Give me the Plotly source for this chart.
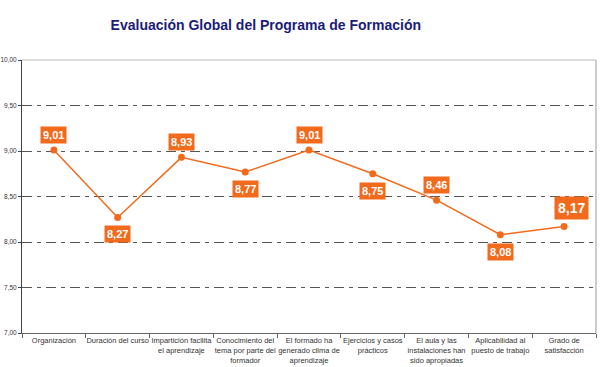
import plotly.graph_objects as go

categories = [
    "Organización",
    "Duración del curso",
    "Impartición facilita<br>el aprendizaje",
    "Conocimiento del<br>tema por parte del<br>formador",
    "El formado ha<br>generado clima de<br>aprendizaje",
    "Ejercicios y casos<br>prácticos",
    "El aula y las<br>instalaciones han<br>sido apropiadas",
    "Aplicabilidad al<br>puesto de trabajo",
    "Grado de<br>satisfacción",
]
values = [9.01, 8.27, 8.93, 8.77, 9.01, 8.75, 8.46, 8.08, 8.17]
label_above = [True, False, True, False, True, False, True, False, True]
y_ticks = [7.0, 7.5, 8.0, 8.5, 9.0, 9.5, 10.0]

ORANGE = "#F26A1B"

fig = go.Figure()
fig.add_trace(go.Scatter(
    x=categories, y=values, mode="lines+markers",
    line=dict(color=ORANGE, width=1.5),
    marker=dict(color=ORANGE, size=7),
    hoverinfo="skip",
))

for i, (c, v, up) in enumerate(zip(categories, values, label_above)):
    last = i == len(values) - 1
    fig.add_annotation(
        x=c, y=v, text="<b>" + f"{v:.2f}".replace(".", ",") + "</b>",
        showarrow=False,
        yshift=(19 if last else 15) if up else -17,
        xshift=7 if last else 0,
        bgcolor=ORANGE, borderpad=3 if last else 2,
        font=dict(family="Liberation Sans, Arial", size=14 if last else 11, color="white"),
    )

fig.update_layout(
    width=600, height=367,
    margin=dict(l=22, r=4, t=60, b=34),
    plot_bgcolor="white", paper_bgcolor="white",
    showlegend=False,
    separators=",.",
    font=dict(family="Liberation Sans, Arial", color="#333333"),
    title=dict(
        text="<b>Evaluación Global del Programa de Formación</b>",
        x=0.443, xanchor="center", y=0.932, yanchor="middle",
        font=dict(size=14, color="#1C1C78"),
    ),
    xaxis=dict(
        type="category", range=[-0.5, len(categories) - 0.5],
        tickson="boundaries", ticks="outside", ticklen=4, tickcolor="#666",
        showline=True, linecolor="#666", linewidth=1, tickangle=0,
        showgrid=False, tickfont=dict(size=7.5, color="#333"),
        automargin=False,
    ),
    yaxis=dict(
        range=[7, 10], tickvals=y_ticks, tickformat=".2f",
        ticks="outside", ticklen=3, tickcolor="#444",
        showline=True, linecolor="#444", linewidth=1,
        showgrid=True, gridcolor="#555", gridwidth=1,
        griddash="10px,5px,4px,5px",
        tickfont=dict(size=6.5, color="#333"),
        zeroline=False, automargin=False,
    ),
)
fig.add_shape(type="line", xref="paper", yref="paper", x0=0, x1=1, y0=1, y1=1,
              line=dict(color="#BBBBBB", width=1))
fig.add_shape(type="line", xref="paper", yref="paper", x0=1, x1=1, y0=0, y1=1,
              line=dict(color="#BBBBBB", width=1.5))

fig.write_html("out.html", config={"displayModeBar": False},
               post_script="document.body.style.margin='0';")
